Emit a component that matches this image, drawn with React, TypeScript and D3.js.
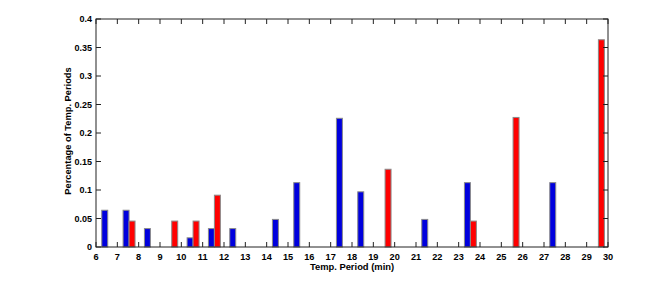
import React, { useRef, useEffect } from 'react';
import * as d3 from 'd3';

// bin start (min) for each group
const bins = [6, 7, 8, 9, 10, 11, 12, 13, 14, 15, 16, 17, 18, 19, 20, 21, 22, 23, 24, 25, 26, 27, 28, 29];
const blueValues = [0.0645, 0.0645, 0.0323, 0, 0.0161, 0.0323, 0.0323, 0, 0.0484, 0.1129, 0, 0.2258, 0.0968, 0, 0, 0.0484, 0, 0.1129, 0, 0, 0, 0.1129, 0, 0];
const redValues = [0, 0.0455, 0, 0.0455, 0.0455, 0.0909, 0, 0, 0, 0, 0, 0, 0, 0.1364, 0, 0, 0, 0.0455, 0, 0.2273, 0, 0, 0, 0.3636];
const xTicks = d3.range(6, 31);
const yTicks = [0, 0.05, 0.1, 0.15, 0.2, 0.25, 0.3, 0.35, 0.4];

const App = () => {
  const chartRef = useRef<SVGSVGElement>(null);

  useEffect(() => {
    const W = 654;
    const H = 289;
    const margin = { top: 19, right: 46, bottom: 42, left: 96 };
    const width = W - margin.left - margin.right;
    const height = H - margin.top - margin.bottom;

    const root = d3.select(chartRef.current);
    root.selectAll('*').remove();
    root.attr('width', W).attr('height', H);

    const svg = root.append('g').attr('transform', `translate(${margin.left},${margin.top})`);

    const x = d3.scaleLinear().domain([6, 30]).range([0, width]);
    const y = d3.scaleLinear().domain([0, 0.4]).range([height, 0]);

    const barW = 0.28;
    const offset = 0.55;
    const font = 'Liberation Sans, Arial, sans-serif';

    const series = [
      { values: blueValues, color: '#0000dd', shift: -barW },
      { values: redValues, color: '#ff0000', shift: 0 },
    ];

    series.forEach((s) => {
      svg
        .append('g')
        .selectAll('rect')
        .data(bins.map((b, i) => ({ b, v: s.values[i] })).filter((d) => d.v > 0))
        .enter()
        .append('rect')
        .attr('x', (d) => x(d.b + offset + s.shift))
        .attr('width', x(6 + barW) - x(6))
        .attr('y', (d) => y(d.v))
        .attr('height', (d) => height - y(d.v))
        .attr('fill', s.color)
        .attr('stroke', '#8a8a8a')
        .attr('stroke-width', 1);
    });

    const tick = 5;
    const axisColor = '#222';

    // box
    svg
      .append('rect')
      .attr('x', 0)
      .attr('y', 0)
      .attr('width', width)
      .attr('height', height)
      .attr('fill', 'none')
      .attr('stroke', axisColor)
      .attr('stroke-width', 1);

    // x ticks (bottom + top, inward)
    const xt = svg.append('g');
    xTicks.forEach((t) => {
      xt.append('line').attr('x1', x(t)).attr('x2', x(t)).attr('y1', height).attr('y2', height - tick).attr('stroke', axisColor);
      xt.append('line').attr('x1', x(t)).attr('x2', x(t)).attr('y1', 0).attr('y2', tick).attr('stroke', axisColor);
      xt.append('text')
        .attr('x', x(t))
        .attr('y', height + 12.5)
        .attr('text-anchor', 'middle')
        .attr('font-family', font)
        .attr('font-weight', 'bold')
        .attr('font-size', 9.2)
        .text(t);
    });

    const yt = svg.append('g');
    yTicks.forEach((t) => {
      yt.append('line').attr('x1', 0).attr('x2', tick).attr('y1', y(t)).attr('y2', y(t)).attr('stroke', axisColor);
      yt.append('line').attr('x1', width).attr('x2', width - tick).attr('y1', y(t)).attr('y2', y(t)).attr('stroke', axisColor);
      yt.append('text')
        .attr('x', -4)
        .attr('y', y(t) + 3.3)
        .attr('text-anchor', 'end')
        .attr('font-family', font)
        .attr('font-weight', 'bold')
        .attr('font-size', 9)
        .text(t);
    });

    svg
      .append('text')
      .attr('x', width / 2)
      .attr('y', height + 23)
      .attr('text-anchor', 'middle')
      .attr('font-family', font)
      .attr('font-weight', 'bold')
      .attr('font-size', 9.4)
      .text('Temp. Period (min)');

    svg
      .append('text')
      .attr('transform', `translate(-25,${height / 2 - 2}) rotate(-90)`)
      .attr('text-anchor', 'middle')
      .attr('font-family', font)
      .attr('font-weight', 'bold')
      .attr('font-size', 9.3)
      .text('Percentage of Temp. Periods');
  }, []);

  return <svg ref={chartRef} style={{ position: 'absolute', left: 0, top: 0, background: '#fff' }}></svg>;
};

export default App;
